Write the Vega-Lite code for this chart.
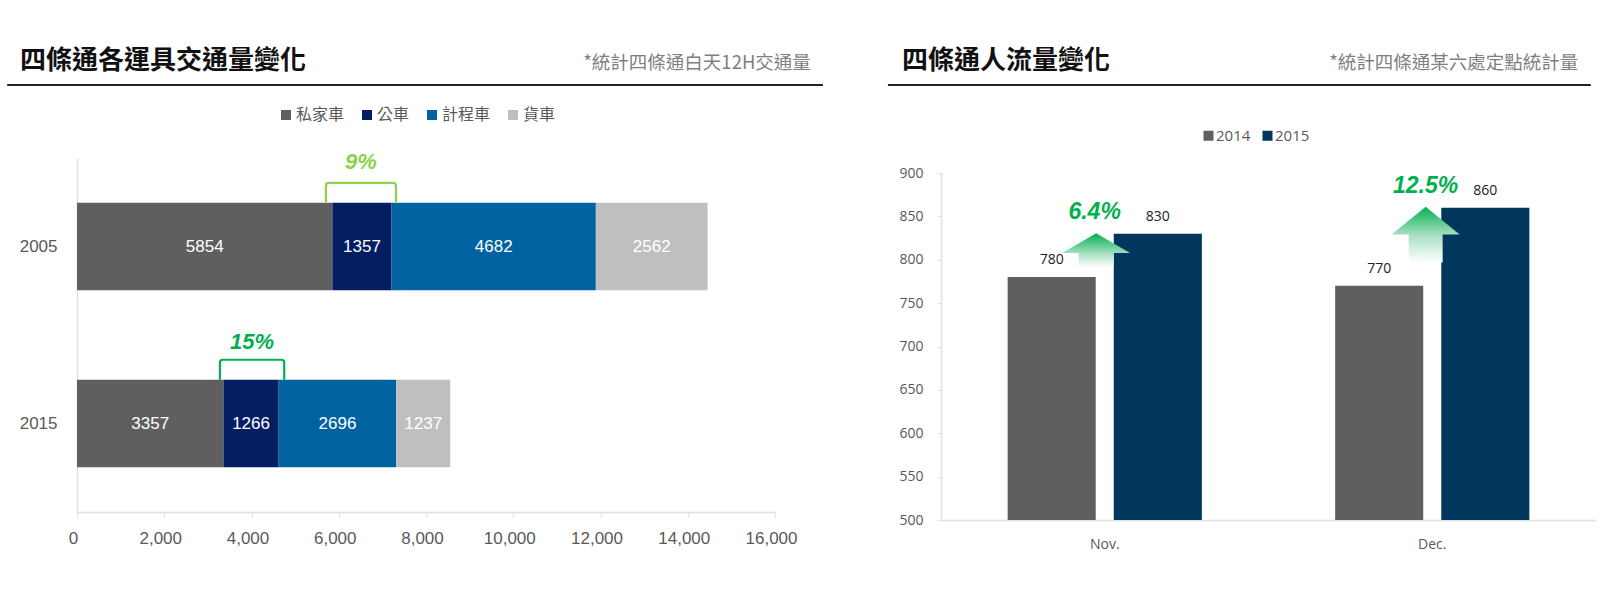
{
"$schema":"https://vega.github.io/schema/vega-lite/v6.json",
"padding":{"left":6,"top":45,"right":0,"bottom":0},
"background":"white",
"config":{"view":{"stroke":null},"font":"Liberation Sans"},
"spacing":62,
"resolve":{"scale":{"color":"independent"},"legend":{"color":"independent"}},
"hconcat":[
{"spacing":64,"vconcat":[
 {"width":698,"height":40,
  "title":{"text":"四條通各運具交通量變化","anchor":"start","frame":"group","dx":-57,"offset":-29,"font":"Noto Sans CJK TC","fontSize":26,"fontWeight":"bold","color":"#111111"},
  "data":{"values":[{"note":"*統計四條通白天12H交通量"}]},
  "layer":[
   {"mark":{"type":"rule","color":"#222222","strokeWidth":2},"encoding":{"x":{"datum":-0.1,"type":"quantitative","scale":{"domain":[0,1]},"axis":null},"x2":{"datum":1.0687},"y":{"datum":0,"type":"quantitative","scale":{"domain":[0,1]},"axis":null}}},
   {"mark":{"type":"text","align":"right","baseline":"middle","font":"Noto Sans CJK TC","fontSize":18.5,"color":"#7F7F7F"},"encoding":{"x":{"datum":1.0514,"type":"quantitative"},"y":{"datum":0.555,"type":"quantitative"},"text":{"field":"note"}}}
  ]},
 {"width":698,"height":354,
  "data":{"values":[
   {"year":"2005","mode":"私家車","rank":1,"count":5854},
   {"year":"2005","mode":"公車","rank":2,"count":1357},
   {"year":"2005","mode":"計程車","rank":3,"count":4682},
   {"year":"2005","mode":"貨車","rank":4,"count":2562},
   {"year":"2015","mode":"私家車","rank":1,"count":3357},
   {"year":"2015","mode":"公車","rank":2,"count":1266},
   {"year":"2015","mode":"計程車","rank":3,"count":2696},
   {"year":"2015","mode":"貨車","rank":4,"count":1237}
  ]},
  "layer":[
   {"mark":{"type":"bar"},
    "encoding":{
     "y":{"field":"year","type":"nominal","sort":["2005","2015"],"title":null,"scale":{"paddingInner":0.505,"paddingOuter":0.2525},"axis":{"labelFont":"Liberation Sans","labelFontSize":17,"labelColor":"#595959","labelAngle":0,"ticks":false,"labelPadding":20,"domainColor":"#E0E0E0","domainWidth":1.5}},
     "x":{"field":"count","type":"quantitative","stack":"zero","title":null,"scale":{"domain":[0,16000],"nice":false},"axis":{"values":[0,2000,4000,6000,8000,10000,12000,14000,16000],"labelExpr":"format(datum.value, ',')","labelFlush":false,"labelOffset":-4,"grid":false,"labelFont":"Liberation Sans","labelFontSize":17,"labelColor":"#595959","labelPadding":13,"tickSize":5,"tickColor":"#E0E0E0","domainColor":"#E0E0E0","domainWidth":1.5}},
     "order":{"field":"rank"},
     "color":{"field":"mode","type":"nominal","scale":{"domain":["私家車","公車","計程車","貨車"],"range":["#5F5F5F","#041E64","#00639F","#BFBFBF"]},
      "legend":{"title":null,"orient":"none","legendX":201,"legendY":62,"direction":"horizontal","columns":4,"symbolType":"square","symbolSize":100,"labelFont":"Noto Sans CJK TC","labelFontSize":16,"labelColor":"#595959","labelOffset":2,"columnPadding":14}}
    }},
   {"mark":{"type":"text","color":"white","font":"Liberation Sans","fontSize":17,"baseline":"middle"},
    "encoding":{
     "y":{"field":"year","type":"nominal","sort":["2005","2015"]},
     "x":{"field":"count","type":"quantitative","stack":"zero","bandPosition":0.5},
     "order":{"field":"rank"},
     "text":{"field":"count","type":"quantitative","format":"d"}
    }},
   {"data":{"values":[{"year":"2005","mid":6508,"label":"9%"}]},
    "layer":[
     {"mark":{"type":"point","filled":false,"stroke":"#8CD24A","strokeWidth":2.2,"opacity":1,"size":4900,"shape":"M-1,.28 L-1,-.2 Q-1,-.28 -.92,-.28 L.92,-.28 Q1,-.28 1,-.2 L1,.28"},
      "encoding":{"x":{"field":"mid","type":"quantitative"},"y":{"field":"year","type":"nominal","sort":["2005","2015"]},"yOffset":{"value":-10}}},
     {"mark":{"type":"text","font":"Liberation Sans","fontSize":22,"fontStyle":"italic","fontWeight":"bold","color":"#8CD24A","baseline":"middle"},
      "encoding":{"x":{"field":"mid","type":"quantitative"},"y":{"field":"year","type":"nominal","sort":["2005","2015"]},"yOffset":{"value":-41},"text":{"field":"label"}}}
    ]},
   {"data":{"values":[{"year":"2015","mid":4013,"label":"15%"}]},
    "layer":[
     {"mark":{"type":"point","filled":false,"stroke":"#00B050","strokeWidth":2.2,"opacity":1,"size":4134,"shape":"M-1,.31 L-1,-.22 Q-1,-.31 -.91,-.31 L.91,-.31 Q1,-.31 1,-.22 L1,.31"},
      "encoding":{"x":{"field":"mid","type":"quantitative"},"y":{"field":"year","type":"nominal","sort":["2005","2015"]},"yOffset":{"value":-10}}},
     {"mark":{"type":"text","font":"Liberation Sans","fontSize":22,"fontStyle":"italic","fontWeight":"bold","color":"#00B050","baseline":"middle"},
      "encoding":{"x":{"field":"mid","type":"quantitative"},"y":{"field":"year","type":"nominal","sort":["2005","2015"]},"yOffset":{"value":-38},"text":{"field":"label"}}}
    ]}
  ]}
]},
{"spacing":80,"vconcat":[
 {"width":655,"height":40,
  "title":{"text":"四條通人流量變化","anchor":"start","frame":"group","dx":-39,"offset":-29,"font":"Noto Sans CJK TC","fontSize":26,"fontWeight":"bold","color":"#111111"},
  "data":{"values":[{"note":"*統計四條通某六處定點統計量"}]},
  "layer":[
   {"mark":{"type":"rule","color":"#222222","strokeWidth":2},"encoding":{"x":{"datum":-0.081,"type":"quantitative","scale":{"domain":[0,1]},"axis":null},"x2":{"datum":0.992},"y":{"datum":0,"type":"quantitative","scale":{"domain":[0,1]},"axis":null}}},
   {"mark":{"type":"text","align":"right","baseline":"middle","font":"Noto Sans CJK TC","fontSize":18.5,"color":"#7F7F7F"},"encoding":{"x":{"datum":0.973,"type":"quantitative"},"y":{"datum":0.555,"type":"quantitative"},"text":{"field":"note"}}}
  ]},
 {"width":655,"height":347,
  "data":{"values":[
   {"month":"Nov.","series":"2014","visitors":780},
   {"month":"Nov.","series":"2015","visitors":830},
   {"month":"Dec.","series":"2014","visitors":770},
   {"month":"Dec.","series":"2015","visitors":860}
  ]},
  "layer":[
   {"mark":{"type":"bar"},
    "encoding":{
     "x":{"field":"month","type":"nominal","sort":["Nov.","Dec."],"title":null,"scale":{"paddingInner":0.407,"paddingOuter":0.2035},"axis":{"labelFont":"Open Sans","labelFontSize":14,"labelColor":"#595959","labelAngle":0,"ticks":false,"labelPadding":17,"domainColor":"#E0E0E0","domainWidth":1.5}},
     "xOffset":{"field":"series","type":"nominal","scale":{"paddingInner":0.17}},
     "y":{"field":"visitors","type":"quantitative","title":null,"scale":{"domain":[500,900],"nice":false,"zero":false,"clamp":true},"axis":{"values":[500,550,600,650,700,750,800,850,900],"grid":false,"labelFont":"Open Sans","labelFontSize":14,"labelColor":"#595959","labelPadding":14,"tickSize":4,"tickColor":"#E0E0E0","domainColor":"#E0E0E0","domainWidth":1.5}},
     "color":{"field":"series","type":"nominal","scale":{"domain":["2014","2015"],"range":["#5F5F5F","#01375C"]},
      "legend":{"title":null,"orient":"none","legendX":260,"legendY":83,"direction":"horizontal","columns":2,"symbolType":"square","symbolSize":100,"labelFont":"Open Sans","labelFontSize":15,"labelColor":"#595959","labelOffset":0,"columnPadding":9}}
    }},
   {"mark":{"type":"text","font":"Open Sans","fontSize":14,"color":"#222222","baseline":"middle","dy":-17},
    "encoding":{
     "x":{"field":"month","type":"nominal","sort":["Nov.","Dec."]},
     "xOffset":{"field":"series","type":"nominal"},
     "y":{"field":"visitors","type":"quantitative"},
     "text":{"field":"visitors","type":"quantitative"}
    }},
   {"data":{"values":[{"month":"Nov.","level":811,"labelLevel":855,"label":"6.4%"}]},
    "layer":[
     {"mark":{"type":"point","filled":true,"opacity":1,"size":4624,"strokeWidth":0,"shape":"M0,-.5 L1,.08 L.51,.08 L.51,.5 L-.51,.5 L-.51,.08 L-1,.08 Z",
       "fill":{"gradient":"linear","x1":0,"y1":0,"x2":0,"y2":1,"stops":[{"offset":0,"color":"#00B050"},{"offset":0.6,"color":"#A6DFC0"},{"offset":1,"color":"#FFFFFF"}]}},
      "encoding":{"x":{"field":"month","type":"nominal","sort":["Nov.","Dec."]},"xOffset":{"value":88.5},"y":{"field":"level","type":"quantitative"}}},
     {"mark":{"type":"text","font":"Liberation Sans","fontSize":23,"fontStyle":"italic","fontWeight":"bold","color":"#00B050","baseline":"middle"},
      "encoding":{"x":{"field":"month","type":"nominal","sort":["Nov.","Dec."]},"xOffset":{"value":87},"y":{"field":"labelLevel","type":"quantitative"},"text":{"field":"label"}}}
    ]},
   {"data":{"values":[{"month":"Dec.","level":829,"labelLevel":885,"label":"12.5%"}]},
    "layer":[
     {"mark":{"type":"point","filled":true,"opacity":1,"size":4624,"strokeWidth":0,"shape":"M0,-.82 L1,0 L.5,0 L.5,.82 L-.5,.82 L-.5,0 L-1,0 Z",
       "fill":{"gradient":"linear","x1":0,"y1":0,"x2":0,"y2":1,"stops":[{"offset":0,"color":"#00B050"},{"offset":0.5,"color":"#A6DFC0"},{"offset":1,"color":"#FFFFFF"}]}},
      "encoding":{"x":{"field":"month","type":"nominal","sort":["Nov.","Dec."]},"xOffset":{"value":90.5},"y":{"field":"level","type":"quantitative"}}},
     {"mark":{"type":"text","font":"Liberation Sans","fontSize":23,"fontStyle":"italic","fontWeight":"bold","color":"#00B050","baseline":"middle"},
      "encoding":{"x":{"field":"month","type":"nominal","sort":["Nov.","Dec."]},"xOffset":{"value":90.5},"y":{"field":"labelLevel","type":"quantitative"},"text":{"field":"label"}}}
    ]}
  ]}
]}
]}
